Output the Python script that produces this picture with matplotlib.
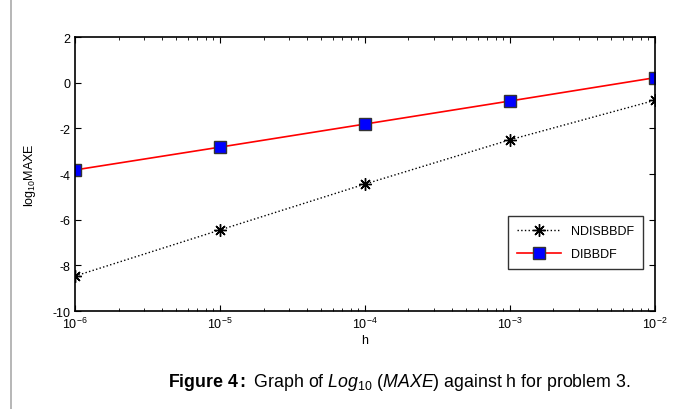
import matplotlib
matplotlib.use('Agg')
from matplotlib import pyplot as plt
from matplotlib.lines import Line2D

plt.rcParams['font.family'] = ['Liberation Sans', 'DejaVu Sans']
plt.rcParams['mathtext.fontset'] = 'custom'
plt.rcParams['mathtext.rm'] = 'Liberation Sans'
plt.rcParams['mathtext.it'] = 'Liberation Sans:italic'
plt.rcParams['mathtext.bf'] = 'Liberation Sans:bold'
plt.rcParams['axes.unicode_minus'] = False

h = [1e-6, 1e-5, 1e-4, 1e-3, 1e-2]
ndisbbdf = [-8.47, -6.45, -4.44, -2.50, -0.77]
dibbdf = [-3.82, -2.82, -1.81, -0.80, 0.22]

fig = plt.figure(figsize=(6.78, 4.10), dpi=100)
ax = fig.add_axes([0.1106, 0.239, 0.855, 0.668])

ax.plot(h, ndisbbdf, ':k', marker=(8, 2, 0), markersize=9, mew=1, lw=1, label='NDISBBDF')
ax.plot(h, dibbdf, '-r', marker='s', markersize=8, mfc='#0000ff', mec='#333333',
        mew=1, lw=1.2, label='DIBBDF')

ax.set_xscale('log')
ax.set_xlim(1e-6, 1e-2)
ax.set_ylim(-10, 2)
ax.set_yticks(range(-10, 3, 2))
ax.tick_params(which='both', direction='in', top=True, right=True, labelsize=9)
ax.tick_params(which='major', length=4)
ax.tick_params(which='minor', length=2)
ax.set_xlabel('h', fontsize=9, labelpad=2)
ax.set_ylabel('log$_{10}$MAXE', fontsize=9, labelpad=10)
for s in ax.spines.values():
    s.set_linewidth(1.2)

ax.legend(loc='lower right', bbox_to_anchor=(0.99, 0.13), fontsize=9, frameon=True,
          fancybox=False, edgecolor='k', handlelength=3.5, borderpad=0.7, labelspacing=0.9)

fig.text(0.589, 0.066,
         r'$\mathbf{Figure\ 4:}$ Graph of $\mathit{Log}_{10}$ ($\mathit{MAXE}$) against h for problem 3.',
         fontsize=12.8, ha='center', va='center')

fig.add_artist(Line2D([0.016, 0.016], [0, 1], color='#aaaaaa', lw=1.2))

fig.savefig('out.png', dpi=100)
